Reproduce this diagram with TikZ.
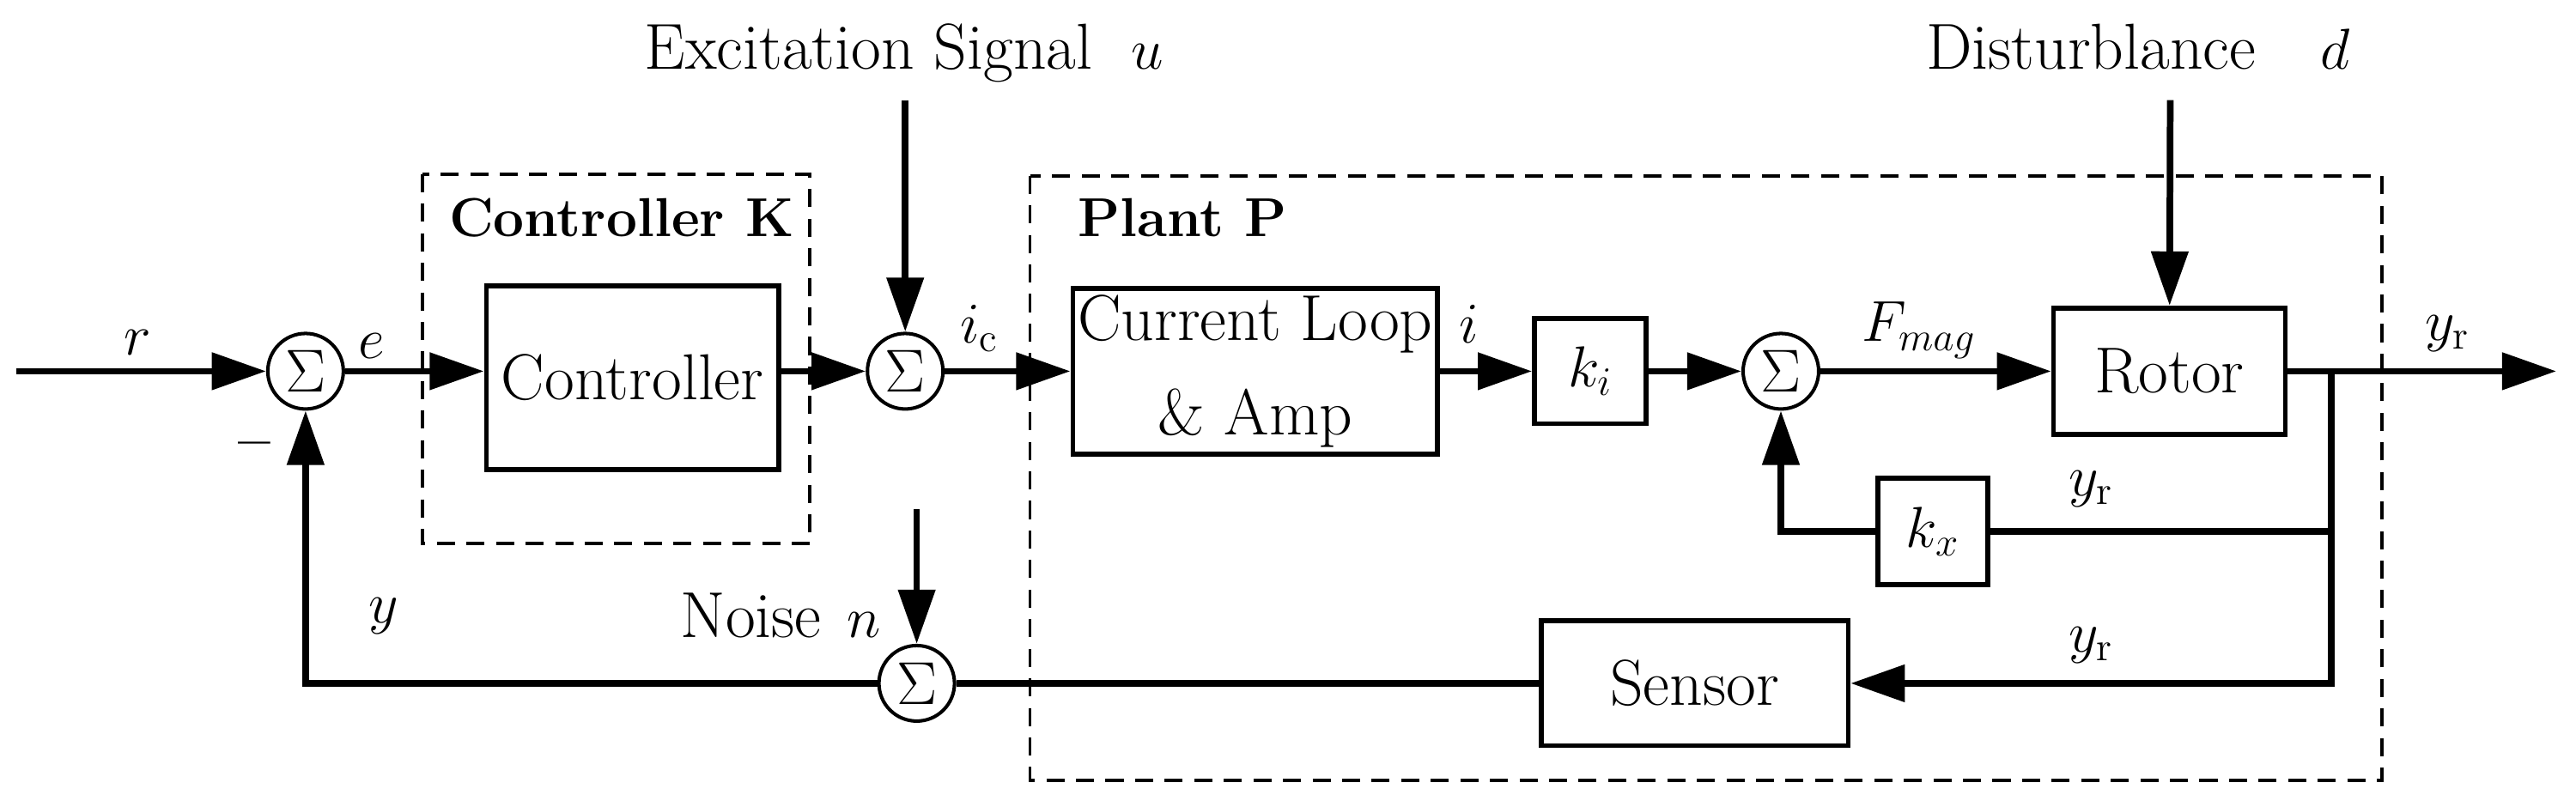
\RequirePackage{fix-cm}
\documentclass[tikz,border=0pt]{standalone}
\usepackage{fontspec}
\usetikzlibrary{arrows.meta}
\newcommand{\mfs}{\fontsize{20}{24}\selectfont}
\begin{document}
\begin{tikzpicture}[x=0.02cm,y=-0.02cm,
  lbl/.style={font=\fontsize{20}{24}\selectfont, inner sep=0},
  txt/.style={font=\fontsize{22.5}{27}\selectfont, inner sep=0},
  ttl/.style={font=\fontsize{19}{22}\selectfont\bfseries, inner sep=0},
  block/.style={draw, line width=1.7pt, font=\fontsize{22.5}{27}\selectfont, inner sep=0, align=center},
  sumnode/.style={circle, draw, line width=1.2pt, minimum size=0.92cm, inner sep=0, font=\fontsize{21}{24}\selectfont},
  conn/.style={line width=2.3pt},
  arr/.style={conn, -{Triangle[length=0.66cm,width=0.44cm]}},
  dbox/.style={line width=1.1pt, dash pattern=on 0.22cm off 0.14cm}]
\useasboundingbox (0,0) rectangle (1568,491);

% dashed groups
\draw[dbox] (257,106) rectangle (493,331);
\draw[dbox] (627,107) rectangle (1450,475);
\node[ttl, anchor=base west] (tK) at (273,144) {Controller K};
\node[ttl, anchor=base west] (tP) at (656,144) {Plant P};

% sums
\node[sumnode] (s1) at (186,226) {$\Sigma$};
\node[sumnode] (s2) at (551,226) {$\Sigma$};
\node[sumnode] (s3) at (1084,226) {$\Sigma$};
\node[sumnode] (s4) at (558,416) {$\Sigma$};

% blocks
\node[block, minimum width=3.56cm, minimum height=2.24cm] (ctrl) at (385,230) {Controller};
\node[block, minimum width=4.44cm, minimum height=2.02cm, font=\fontsize{22.5}{33}\selectfont] (cl) at (764,226) {Current Loop\\\& Amp};
\node[block, minimum width=1.36cm, minimum height=1.28cm, font=\mfs] (ki) at (968,226) {$k_i$};
\node[block, minimum width=2.82cm, minimum height=1.54cm] (rotor) at (1320.5,226) {Rotor};
\node[block, minimum width=1.34cm, minimum height=1.30cm, font=\mfs] (kx) at (1176.5,323.5) {$k_x$};
\node[block, minimum width=3.74cm, minimum height=1.52cm] (sensor) at (1031.5,416) {Sensor};

% free ends
\coordinate (rin) at (10,226);
\coordinate (uin) at (551,61);
\coordinate (din) at (1321,61);
\coordinate (nin) at (558,310);
\coordinate (yout) at (1556,226);
\coordinate (br) at (1419,226);

% connectors
\draw[arr] (rin) -- (s1);
\draw[arr] (s1) -- (s1 -| ctrl.west);
\draw[arr] (ctrl.east |- s2) -- (s2);
\draw[arr] (s2) -- (cl);
\draw[arr] (cl) -- (ki);
\draw[arr] (ki) -- (s3);
\draw[arr] (s3) -- (rotor);
\draw[arr] (rotor) -- (yout);
\draw[arr] (uin) -- (s2);
\draw[arr] (din) -- (rotor);
\draw[arr] (nin) -- (s4);
\draw[arr] (br) |- (sensor);
\draw[conn] (br |- kx) -- (kx);
\draw[arr] (kx) -| (s3);
\draw[conn] (sensor) -- (s4);
\draw[arr] (s4) -| (s1);

% labels
\node[lbl, font=\fontsize{20}{24}\selectfont\bfseries] (lminus) at (155,274) {--};
\node[lbl, anchor=base west] (lr) at (75,216) {$r$};
\node[lbl, anchor=base west] (le) at (218,218) {$e$};
\node[lbl, anchor=base west] (lic) at (584,209) {$i_{\mathrm{c}}$};
\node[lbl, anchor=base west] (li) at (888,209) {$i$};
\node[lbl, anchor=base west] (lF) at (1133,208) {$F_{mag}$};
\node[lbl, anchor=base west] (lyo) at (1476,207) {$y_{\mathrm{r}}$};
\node[lbl, anchor=base west] (lyk) at (1259,302) {$y_{\mathrm{r}}$};
\node[lbl, anchor=base west] (lys) at (1259,397) {$y_{\mathrm{r}}$};
\node[lbl, anchor=base west] (ly) at (224,379) {$y$};
\node[txt, anchor=base west] (ln) at (414,388) {Noise\hspace{0.4em}{\mfs$n$}};
\node[txt, anchor=base west] (lu) at (392,42) {Excitation Signal\hspace{0.6em}{\mfs$u$}};
\node[txt, anchor=base west] (ld) at (1172,42) {Disturblance\hspace{1em}{\mfs$d$}};
\end{tikzpicture}
\end{document}
